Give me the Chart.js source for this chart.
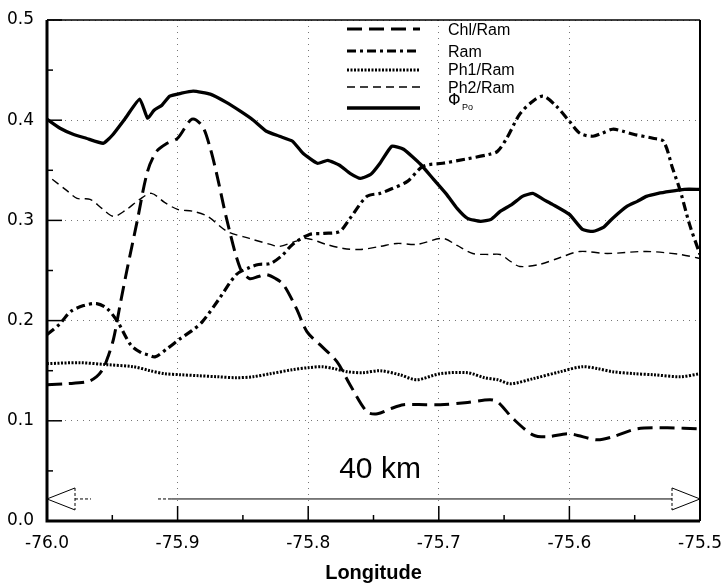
<!DOCTYPE html>
<html>
<head>
<meta charset="utf-8">
<script src="https://cdn.jsdelivr.net/npm/chart.js@4"></script>
<style>
  html, body { margin: 0; padding: 0; background: #fff; }
  canvas { display: block; }
</style>
</head>
<body>
<canvas id="c" width="723" height="585"></canvas>
<script>
const xTicks = [-76.0, -75.9, -75.8, -75.7, -75.6, -75.5];
const yTicks = [0.0, 0.1, 0.2, 0.3, 0.4, 0.5];

const chlLon = [-76.0, -75.985, -75.969, -75.962, -75.957, -75.953, -75.949, -75.944, -75.939, -75.931, -75.923, -75.916, -75.908, -75.9, -75.889, -75.881, -75.875, -75.87, -75.862, -75.852, -75.845, -75.838, -75.832, -75.825, -75.819, -75.809, -75.801, -75.791, -75.778, -75.768, -75.755, -75.747, -75.737, -75.727, -75.71, -75.699, -75.68, -75.661, -75.655, -75.643, -75.628, -75.617, -75.6, -75.579, -75.567, -75.548, -75.525, -75.5];
const chlVal = [0.136, 0.137, 0.139, 0.144, 0.152, 0.165, 0.182, 0.216, 0.249, 0.299, 0.349, 0.369, 0.377, 0.382, 0.401, 0.394, 0.372, 0.346, 0.299, 0.252, 0.242, 0.244, 0.246, 0.242, 0.236, 0.212, 0.189, 0.176, 0.159, 0.136, 0.109, 0.107, 0.112, 0.116, 0.116, 0.116, 0.118, 0.121, 0.119, 0.102, 0.086, 0.084, 0.087, 0.081, 0.084, 0.092, 0.093, 0.092];

const ramLon = [-76.0, -75.99, -75.982, -75.972, -75.962, -75.954, -75.946, -75.936, -75.928, -75.923, -75.917, -75.908, -75.898, -75.889, -75.881, -75.868, -75.855, -75.845, -75.838, -75.829, -75.82, -75.812, -75.799, -75.788, -75.776, -75.768, -75.755, -75.745, -75.737, -75.724, -75.712, -75.697, -75.68, -75.661, -75.655, -75.648, -75.638, -75.628, -75.62, -75.61, -75.6, -75.592, -75.582, -75.575, -75.567, -75.559, -75.551, -75.536, -75.528, -75.521, -75.515, -75.508, -75.5];
const ramVal = [0.186, 0.197, 0.209, 0.215, 0.217, 0.212, 0.199, 0.176, 0.168, 0.166, 0.164, 0.172, 0.182, 0.190, 0.199, 0.222, 0.246, 0.253, 0.256, 0.257, 0.265, 0.276, 0.286, 0.287, 0.289, 0.302, 0.324, 0.327, 0.331, 0.339, 0.354, 0.357, 0.361, 0.366, 0.369, 0.382, 0.406, 0.419, 0.424, 0.414, 0.399, 0.387, 0.384, 0.387, 0.391, 0.389, 0.386, 0.382, 0.379, 0.352, 0.329, 0.296, 0.266];

const ph1Lon = [-76.0, -75.975, -75.954, -75.934, -75.921, -75.91, -75.898, -75.884, -75.87, -75.855, -75.842, -75.829, -75.812, -75.8, -75.789, -75.78, -75.77, -75.758, -75.745, -75.73, -75.717, -75.699, -75.678, -75.665, -75.655, -75.645, -75.628, -75.607, -75.59, -75.578, -75.567, -75.55, -75.536, -75.515, -75.5];
const ph1Val = [0.157, 0.158, 0.156, 0.154, 0.150, 0.147, 0.146, 0.145, 0.144, 0.143, 0.144, 0.147, 0.151, 0.153, 0.154, 0.152, 0.149, 0.148, 0.150, 0.146, 0.141, 0.147, 0.148, 0.143, 0.141, 0.137, 0.142, 0.149, 0.154, 0.152, 0.149, 0.147, 0.146, 0.144, 0.147];

const ph2Lon = [-75.996, -75.985, -75.977, -75.967, -75.958, -75.949, -75.94, -75.929, -75.92, -75.91, -75.9, -75.888, -75.877, -75.862, -75.845, -75.829, -75.822, -75.81, -75.801, -75.786, -75.773, -75.76, -75.745, -75.732, -75.717, -75.697, -75.686, -75.674, -75.661, -75.653, -75.645, -75.638, -75.623, -75.607, -75.592, -75.571, -75.541, -75.515, -75.5];
const ph2Val = [0.341, 0.330, 0.322, 0.321, 0.312, 0.304, 0.310, 0.321, 0.327, 0.318, 0.311, 0.309, 0.304, 0.289, 0.282, 0.276, 0.274, 0.279, 0.282, 0.276, 0.272, 0.271, 0.274, 0.277, 0.276, 0.282, 0.275, 0.267, 0.266, 0.266, 0.259, 0.254, 0.256, 0.263, 0.269, 0.267, 0.269, 0.266, 0.262];

const phiLon = [-76.0, -75.99, -75.98, -75.97, -75.957, -75.95, -75.94, -75.929, -75.923, -75.918, -75.912, -75.906, -75.897, -75.888, -75.875, -75.863, -75.852, -75.842, -75.832, -75.822, -75.812, -75.804, -75.793, -75.785, -75.776, -75.768, -75.76, -75.752, -75.745, -75.736, -75.727, -75.714, -75.704, -75.694, -75.686, -75.678, -75.668, -75.66, -75.653, -75.644, -75.636, -75.628, -75.62, -75.613, -75.6, -75.59, -75.582, -75.574, -75.567, -75.556, -75.548, -75.541, -75.532, -75.523, -75.512, -75.5];
const phiVal = [0.401, 0.392, 0.386, 0.382, 0.377, 0.385, 0.402, 0.421, 0.402, 0.410, 0.415, 0.424, 0.427, 0.429, 0.426, 0.418, 0.409, 0.400, 0.389, 0.384, 0.379, 0.367, 0.357, 0.360, 0.355, 0.347, 0.342, 0.346, 0.357, 0.374, 0.371, 0.356, 0.341, 0.326, 0.312, 0.302, 0.299, 0.301, 0.309, 0.316, 0.324, 0.327, 0.321, 0.316, 0.306, 0.291, 0.289, 0.293, 0.302, 0.314, 0.319, 0.324, 0.327, 0.329, 0.331, 0.331];

function pts(lon, val) {
    return lon.map((x, i) => ({x: x, y: val[i]}));
}

const series = [
    {label: 'Chl/Ram', data: pts(chlLon, chlVal), borderWidth: 3, borderDash: [15, 7], tension: 0.3},
    {label: 'Ram', data: pts(ramLon, ramVal), borderWidth: 3.2, borderDash: [9, 4, 3, 4], tension: 0.3},
    {label: 'Ph1/Ram', data: pts(ph1Lon, ph1Val), borderWidth: 3, borderDash: [2, 1.5], tension: 0.3},
    {label: 'Ph2/Ram', data: pts(ph2Lon, ph2Val), borderWidth: 1.4, borderDash: [8, 5], tension: 0.3},
    {label: 'Phi', data: pts(phiLon, phiVal), borderWidth: 3.3, borderDash: [], tension: 0.15}
];

const frame = {
    id: 'frame',
    afterDatasetsDraw(chart) {
        const ctx = chart.ctx;
        const a = chart.chartArea;
        const sx = chart.scales.x, sy = chart.scales.y;
        ctx.save();
        ctx.strokeStyle = '#000';
        ctx.setLineDash([]);
        ctx.lineWidth = 3;
        ctx.beginPath();
        ctx.moveTo(a.left, a.top); ctx.lineTo(a.left, a.bottom); ctx.lineTo(a.right, a.bottom);
        ctx.stroke();
        ctx.lineWidth = 2;
        ctx.beginPath();
        ctx.moveTo(a.right, a.bottom); ctx.lineTo(a.right, a.top);
        ctx.stroke();
        ctx.lineWidth = 1.5;
        ctx.beginPath();
        ctx.moveTo(a.left, a.top); ctx.lineTo(a.right, a.top);
        ctx.stroke();

        // inward tick marks, major and minor
        ctx.lineWidth = 1.5;
        for (let v = 0.05; v < 0.5; v += 0.05) {
            const y = sy.getPixelForValue(v);
            const len = Math.abs(v * 10 - Math.round(v * 10)) < 0.01 ? 15 : 6;
            ctx.beginPath(); ctx.moveTo(a.left, y); ctx.lineTo(a.left + len, y); ctx.stroke();
        }
        for (let v = -75.95; v < -75.5; v += 0.05) {
            const x = sx.getPixelForValue(v);
            const len = Math.abs(v * 10 - Math.round(v * 10)) < 0.01 ? 15 : 6;
            ctx.beginPath(); ctx.moveTo(x, a.bottom); ctx.lineTo(x, a.bottom - len); ctx.stroke();
        }

        // 40 km scale arrow
        const yA = sy.getPixelForValue(0.022);
        const x0 = sx.getPixelForValue(-76.0), x1 = sx.getPixelForValue(-75.5);
        ctx.lineWidth = 1;
        ctx.beginPath();
        ctx.moveTo(x0 + 28, yA - 11); ctx.lineTo(x0, yA); ctx.lineTo(x0 + 28, yA + 11);
        ctx.moveTo(x1 - 28, yA - 11); ctx.lineTo(x1, yA); ctx.lineTo(x1 - 28, yA + 11);
        ctx.moveTo(sx.getPixelForValue(-75.905), yA); ctx.lineTo(x1 - 28, yA);
        ctx.stroke();
        ctx.setLineDash([3, 2]);
        ctx.beginPath();
        ctx.moveTo(x0 + 28, yA - 11); ctx.lineTo(x0 + 28, yA + 11);
        ctx.moveTo(x1 - 28, yA - 11); ctx.lineTo(x1 - 28, yA + 11);
        ctx.moveTo(x0 + 28, yA); ctx.lineTo(x0 + 44, yA);
        ctx.moveTo(sx.getPixelForValue(-75.915), yA); ctx.lineTo(sx.getPixelForValue(-75.905), yA);
        ctx.stroke();
        ctx.setLineDash([]);
        ctx.fillStyle = '#000';
        ctx.font = '30px "Liberation Sans", Arial, sans-serif';
        ctx.textAlign = 'center';
        ctx.textBaseline = 'middle';
        ctx.fillText('40 km', sx.getPixelForValue(-75.745), sy.getPixelForValue(0.051));

        // legend
        const rows = [29, 51, 70, 87, 108];
        const texts = [31, 53, 71, 89, 101];
        ctx.textAlign = 'left';
        chart.data.datasets.forEach((ds, i) => {
            ctx.lineWidth = ds.borderWidth;
            ctx.setLineDash(ds.borderDash);
            ctx.beginPath();
            ctx.moveTo(347, rows[i]); ctx.lineTo(420, rows[i]);
            ctx.stroke();
            ctx.setLineDash([]);
            if (ds.label === 'Phi') {
                ctx.font = '16px "DejaVu Sans", sans-serif';
                ctx.fillText('\u03A6', 448, texts[i]);
                ctx.font = '9px "Liberation Sans", Arial, sans-serif';
                ctx.fillText('Po', 462, texts[i] + 7);
            } else {
                ctx.font = '16px "Liberation Sans", Arial, sans-serif';
                ctx.fillText(ds.label, 448, texts[i]);
            }
        });
        ctx.restore();
    }
};

const tickFont = {family: '"DejaVu Sans", Verdana, sans-serif', size: 17};

new Chart(document.getElementById('c'), {
    type: 'line',
    data: {
        datasets: series.map(s => Object.assign({
            borderColor: '#000',
            backgroundColor: '#000',
            pointRadius: 0,
            fill: false
        }, s))
    },
    options: {
        responsive: false,
        animation: false,
        layout: {padding: {left: 0, right: 0, top: 0, bottom: 0}},
        plugins: {legend: {display: false}, tooltip: {enabled: false}},
        scales: {
            x: {
                type: 'linear',
                min: xTicks[0],
                max: xTicks[xTicks.length - 1],
                afterBuildTicks: s => { s.ticks = xTicks.map(v => ({value: v})); },
                afterFit: s => { s.height = 64; s.paddingRight = 23; s.paddingLeft = 0; },
                ticks: {
                    color: '#000',
                    font: tickFont,
                    padding: 12,
                    maxRotation: 0,
                    callback: v => v.toFixed(1)
                },
                grid: {color: '#777', lineWidth: 1, drawTicks: false},
                border: {display: false, dash: [1, 5]},
                title: {
                    display: true,
                    text: 'Longitude',
                    color: '#000',
                    font: {family: '"Liberation Sans", Arial, sans-serif', size: 20, weight: 'bold'},
                    padding: {top: 0, bottom: 0}
                }
            },
            y: {
                type: 'linear',
                min: yTicks[0],
                max: yTicks[yTicks.length - 1],
                afterBuildTicks: s => { s.ticks = yTicks.map(v => ({value: v})); },
                afterFit: s => { s.width = 47; s.paddingTop = 20; s.paddingBottom = 0; },
                ticks: {
                    color: '#000',
                    font: tickFont,
                    padding: 13,
                    callback: v => v.toFixed(1)
                },
                grid: {color: '#777', lineWidth: 1, drawTicks: false},
                border: {display: false, dash: [1, 5]}
            }
        }
    },
    plugins: [frame]
});
</script>
</body>
</html>
